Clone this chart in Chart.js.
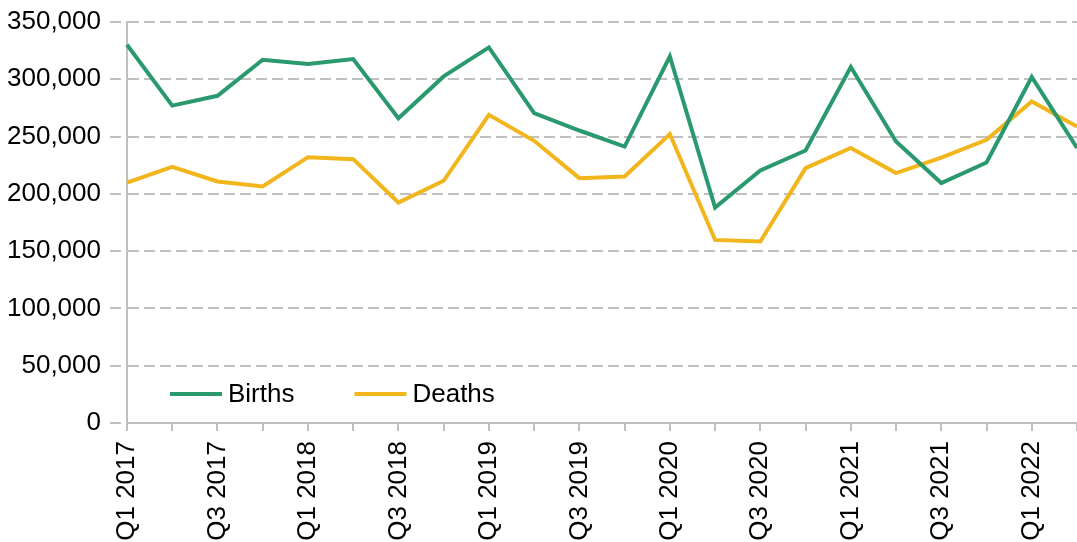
<!DOCTYPE html>
<html>
<head>
<meta charset="utf-8">
<script src="https://cdn.jsdelivr.net/npm/chart.js@4/dist/chart.umd.min.js"></script>
<style>
  html, body { margin: 0; padding: 0; background: #fff; overflow: hidden; }
  #wrap { width: 1077px; height: 542px; position: relative; }
</style>
</head>
<body>
<div id="wrap"><canvas id="chart"></canvas></div>
<script>
"use strict";

const quarters = [
  "Q1 2017", "Q2 2017", "Q3 2017", "Q4 2017",
  "Q1 2018", "Q2 2018", "Q3 2018", "Q4 2018",
  "Q1 2019", "Q2 2019", "Q3 2019", "Q4 2019",
  "Q1 2020", "Q2 2020", "Q3 2020", "Q4 2020",
  "Q1 2021", "Q2 2021", "Q3 2021", "Q4 2021",
  "Q1 2022", "Q2 2022"
];

const births = [
  330200, 277000, 285600, 317000,
  313300, 317700, 266000, 302500,
  327800, 270500, 255300, 241300,
  320000, 188000, 220400, 237800,
  310700, 245700, 209400, 227400,
  302000, 240000
];

const deaths = [
  209900, 223600, 210800, 206400,
  232000, 230300, 192400, 211400,
  269000, 246300, 213700, 215100,
  252200, 159800, 158400, 222500,
  240000, 218100, 231700, 247200,
  280700, 258800
];

const yTicks = [0, 50000, 100000, 150000, 200000, 250000, 300000, 350000];

const seriesNames = ["Births", "Deaths"];
const seriesColors = ["#2a9a6e", "#f2b51b"];

const FONT = "'Liberation Sans', Arial, sans-serif";
const FONT_SIZE = 26;
const GRID = "#c0c0c0";

// legend drawn inside the plot, bottom-left
const insideLegend = {
  id: "insideLegend",
  afterDraw(chart) {
    const { ctx, chartArea } = chart;
    let x = chartArea.left + 43;
    const y = chartArea.bottom - 29;
    ctx.save();
    ctx.font = FONT_SIZE + "px " + FONT;
    ctx.textBaseline = "middle";
    ctx.textAlign = "left";
    chart.data.datasets.forEach(ds => {
      ctx.strokeStyle = ds.borderColor;
      ctx.lineWidth = 4;
      ctx.beginPath();
      ctx.moveTo(x, y);
      ctx.lineTo(x + 52, y);
      ctx.stroke();
      ctx.fillStyle = "#000";
      ctx.fillText(ds.label, x + 58, y + 1);
      x += 58 + ctx.measureText(ds.label).width + 60;
    });
    ctx.restore();
  }
};

new Chart(document.getElementById("chart").getContext("2d"), {
  type: "line",
  data: {
    labels: quarters,
    datasets: [
      {
        label: seriesNames[0],
        data: births,
        borderColor: seriesColors[0],
        backgroundColor: seriesColors[0],
        borderWidth: 4,
        pointRadius: 0,
        tension: 0
      },
      {
        label: seriesNames[1],
        data: deaths,
        borderColor: seriesColors[1],
        backgroundColor: seriesColors[1],
        borderWidth: 4,
        pointRadius: 0,
        tension: 0
      }
    ]
  },
  options: {
    responsive: true,
    maintainAspectRatio: false,
    animation: false,
    layout: { padding: { left: -2, top: 22, right: 0, bottom: 0 } },
    plugins: {
      legend: { display: false },
      tooltip: { enabled: false }
    },
    scales: {
      x: {
        offset: false,
        afterFit(scale) {
          // plot runs to the very edges, the last quarter is cut off
          scale.paddingLeft = 0;
          scale.paddingRight = 0;
          scale.height = 119;
        },
        grid: {
          drawOnChartArea: false,
          drawTicks: true,
          tickLength: 8,
          color: GRID,
          lineWidth: 2
        },
        border: { color: GRID, width: 2 },
        ticks: {
          autoSkip: false,
          maxRotation: 90,
          minRotation: 90,
          padding: 10,
          color: "#000",
          font: { family: FONT, size: FONT_SIZE },
          callback(value, index) {
            return index % 2 === 0 ? quarters[index] : "";
          }
        }
      },
      y: {
        min: yTicks[0],
        max: yTicks[yTicks.length - 1],
        afterBuildTicks(scale) {
          scale.ticks = yTicks.map(v => ({ value: v }));
        },
        afterFit(scale) {
          scale.paddingTop = 0;
          scale.paddingBottom = 0;
        },
        grid: {
          color: GRID,
          lineWidth: 2,
          tickLength: 17,
          tickBorderDash: [11, 5]
        },
        border: { color: GRID, width: 2, dash: [11, 5] },
        ticks: {
          padding: 9,
          color: "#000",
          font: { family: FONT, size: FONT_SIZE },
          callback: v => v.toLocaleString("en-GB")
        }
      }
    }
  },
  plugins: [insideLegend]
});
</script>
</body>
</html>
